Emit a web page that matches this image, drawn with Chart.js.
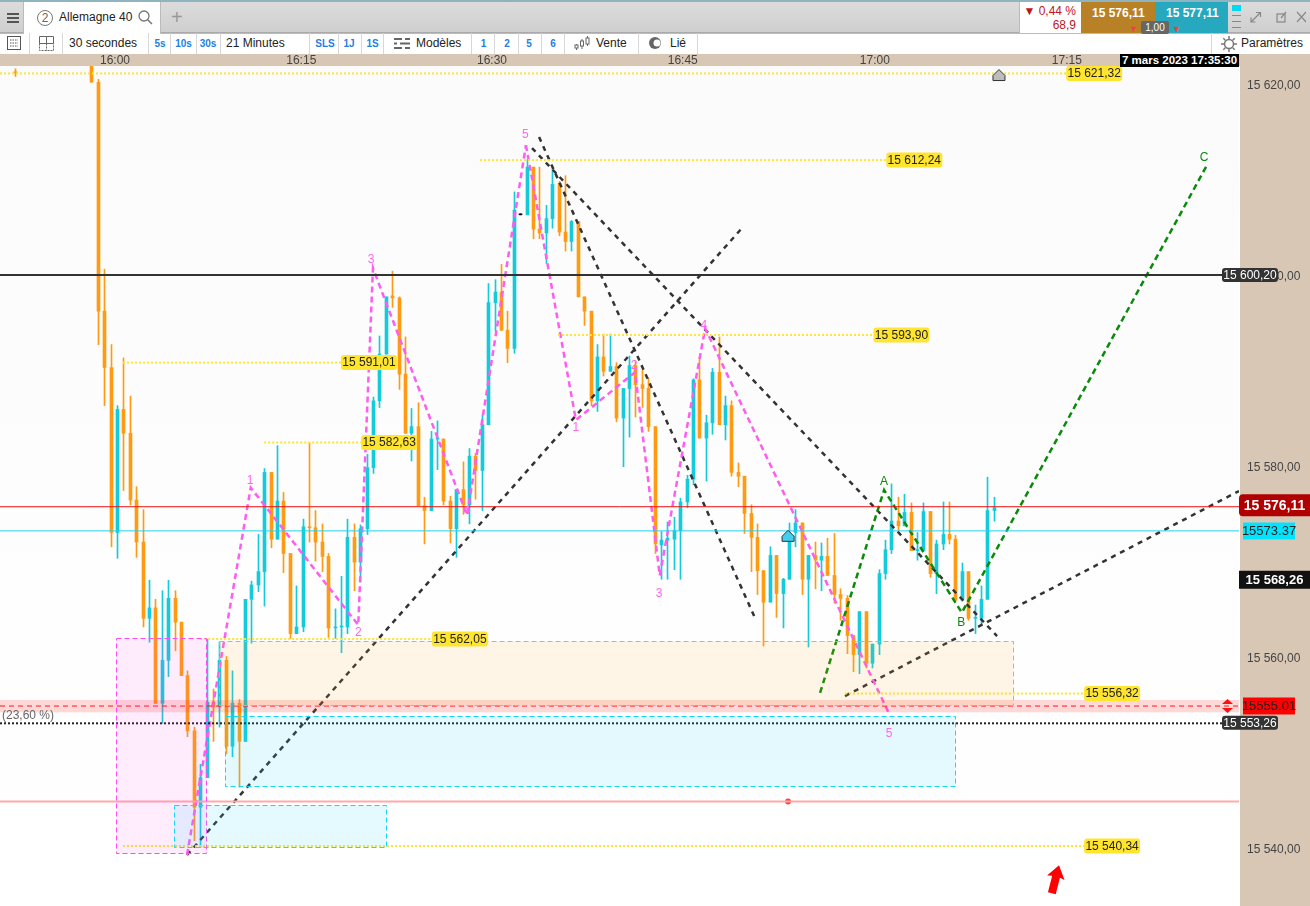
<!DOCTYPE html>
<html lang="fr">
<head>
<meta charset="utf-8">
<title>Allemagne 40</title>
<script src="https://cdn.jsdelivr.net/npm/chart.js@4"></script>
<style>
  html, body { margin: 0; padding: 0; background: #fff; overflow: hidden; }
  body { width: 1310px; height: 906px; position: relative; font-family: "Liberation Sans", Arial, sans-serif; font-size: 12px; color: #222; }
  #chart { position: absolute; left: 0; top: 0; }
  .band { position: absolute; background: #d8c7b5; }
  .bar1 { position: absolute; left: 0; top: 0; width: 1310px; height: 33px; background: linear-gradient(#dcdcdc, #cfcfcf); border-top: 2px solid #8fb4bf; box-sizing: border-box; border-bottom: 1px solid #aaa; }
  .bar2 { position: absolute; left: 0; top: 33px; width: 1310px; height: 21px; background: #fff; }
  .t { position: absolute; white-space: nowrap; line-height: 14px; }
  .b { color: #1e7fe0; font-size: 10px; font-weight: bold; transform: translateX(-50%); }
  .sep { position: absolute; top: 33px; height: 21px; width: 1px; background: #d8d8d8; }
  .box { position: absolute; }
</style>
</head>
<body>
<div class="band" style="left:0;top:54px;width:1310px;height:12px"></div>
<div class="band" style="left:1240px;top:54px;width:70px;height:852px"></div>
<canvas id="chart" width="1310" height="906"></canvas>

<div class="bar1"></div>
<div class="bar2"></div>
<div class="box" style="left:0;top:33px;width:1310px;height:1px;background:#bbb"></div>
<div class="box" style="left:7px;top:13px;width:12px;height:2px;background:#555;box-shadow:0 4px 0 #555,0 8px 0 #555"></div>
<div class="box" style="left:23px;top:2px;width:138px;height:32px;background:#fff;border-left:1px solid #bbb;border-right:1px solid #bbb;box-sizing:border-box"></div>
<div class="t" style="left:37px;top:10px;width:14px;height:14px;border:1px solid #777;border-radius:50%;text-align:center;color:#666">2</div>
<div class="t" style="left:59px;top:10px">Allemagne 40</div>
<svg class="box" style="left:137px;top:9px" width="16" height="16"><circle cx="7" cy="7" r="5" fill="none" stroke="#777" stroke-width="1.3"/><path d="M10.5 10.5L15 15" stroke="#777" stroke-width="1.5"/></svg>
<div class="t" style="left:171px;top:7px;font-size:20px;line-height:20px;color:#999">+</div>

<div class="box" style="left:1019px;top:2px;width:62px;height:31px;background:#fff;border-left:1px solid #bbb;box-sizing:border-box"></div>
<div class="t" style="right:234px;top:4px;color:#c0161b">▼ 0,44 %</div>
<div class="t" style="right:234px;top:18px;color:#c0161b">68,9</div>
<div class="box" style="left:1081px;top:2px;width:74px;height:31px;background:#b98126"></div>
<div class="box" style="left:1155px;top:2px;width:73px;height:31px;background:#26a8bf"></div>
<div class="t" style="left:1092px;top:6px;color:#fff;font-weight:bold">15 576,11</div>
<div class="t" style="left:1166px;top:6px;color:#fff;font-weight:bold">15 577,11</div>
<div class="t" style="left:1141px;top:21px;width:28px;height:13px;line-height:13px;font-size:10px;background:#666;color:#fff;border-radius:2px;text-align:center">1,00</div>
<div class="t" style="left:1129px;top:22px;color:#f04040;font-size:9px">▼</div>
<div class="t" style="left:1172px;top:22px;color:#f04040;font-size:9px">▼</div>
<div class="box" style="left:1232px;top:5px;width:9px;height:6px;background:#00d8f8"></div>
<div class="box" style="left:1232px;top:15px;width:9px;height:1px;background:#888;box-shadow:0 6px 0 #888,0 12px 0 #888"></div>
<svg class="box" style="left:1250px;top:11px" width="56" height="12" fill="none" stroke="#888" stroke-width="1.2"><path d="M1 11L10 2M6 1.5h4.5v4.5M1 6.5V11h4.5"/><rect x="27" y="3" width="8" height="8"/><path d="M31 7l5-6"/><path d="M47 1L56 11M56 1L47 11"/></svg>

<svg class="box" style="left:6px;top:36px" width="16" height="15" fill="none" stroke="#555"><rect x="1.5" y="0.5" width="13" height="13"/><path d="M4 4h8M4 7h8M4 10h8" stroke-dasharray="1.5 1"/></svg>
<svg class="box" style="left:39px;top:36px" width="16" height="15" fill="none" stroke="#666"><path d="M0.5 0.5h7v7h-7zM7.5 0.5h7v7h-7z"/><path d="M0.5 7.5v7h14v-7M7.5 7.5v7" stroke-dasharray="2 1"/></svg>
<div class="t" style="left:69px;top:36px">30 secondes</div>
<div class="t b" style="left:160px;top:37px">5s</div>
<div class="t b" style="left:183.5px;top:37px">10s</div>
<div class="t b" style="left:208px;top:37px">30s</div>
<div class="t" style="left:226px;top:36px">21 Minutes</div>
<div class="t b" style="left:325px;top:37px">SLS</div>
<div class="t b" style="left:349px;top:37px">1J</div>
<div class="t b" style="left:372.5px;top:37px">1S</div>
<svg class="box" style="left:394px;top:36px" width="16" height="15" stroke="#666" stroke-width="2"><path d="M0 3h8M11 3h5M0 7.5h3M6 7.5h10M0 12h8M11 12h5"/></svg>
<div class="t" style="left:416px;top:36px">Modèles</div>
<div class="t b" style="left:483.5px;top:37px">1</div>
<div class="t b" style="left:507px;top:37px">2</div>
<div class="t b" style="left:529px;top:37px">5</div>
<div class="t b" style="left:553px;top:37px">6</div>
<svg class="box" style="left:574px;top:36px" width="16" height="15" fill="none" stroke="#666"><path d="M2.5 8v6M8 3v10M13.5 0v10"/><rect x="1" y="9" width="3" height="3" fill="#fff"/><rect x="6.5" y="5" width="3" height="5" fill="#fff"/><rect x="12" y="2" width="3" height="6" fill="#fff"/></svg>
<div class="t" style="left:596px;top:36px">Vente</div>
<svg class="box" style="left:648px;top:37px" width="14" height="12"><circle cx="7" cy="6" r="6" fill="#666"/><circle cx="9" cy="6" r="3.5" fill="#fff"/></svg>
<div class="t" style="left:670px;top:36px">Lié</div>
<svg class="box" style="left:1221px;top:36px" width="16" height="16" fill="none" stroke="#777" stroke-width="1.5"><circle cx="8" cy="8" r="4.5"/><path d="M8 0v3M8 13v3M0 8h3M13 8h3M2.3 2.3l2 2M11.7 11.7l2 2M2.3 13.7l2-2M11.7 4.3l2-2"/></svg>
<div class="t" style="left:1241px;top:36px">Paramètres</div>
<div class="sep" style="left:29px"></div><div class="sep" style="left:62px"></div><div class="sep" style="left:148px"></div>
<div class="sep" style="left:170px"></div><div class="sep" style="left:196px"></div><div class="sep" style="left:220px"></div>
<div class="sep" style="left:309px"></div><div class="sep" style="left:338px"></div><div class="sep" style="left:361px"></div>
<div class="sep" style="left:383px"></div><div class="sep" style="left:471px"></div><div class="sep" style="left:494px"></div>
<div class="sep" style="left:518px"></div><div class="sep" style="left:541px"></div><div class="sep" style="left:564px"></div>
<div class="sep" style="left:638px"></div><div class="sep" style="left:697px"></div><div class="sep" style="left:1211px"></div>
<div class="t" style="left:1120px;top:54px;width:119px;height:13px;line-height:13px;background:#000;color:#fff;font-weight:bold;font-size:11.5px;text-align:center">7 mars 2023 17:35:30</div>

<script>
const opens = [15621.5,15623,15620.4,15596.4,15590.5,15573.2,15586.1,15583.6,15576.6,15572.2,15564.2,15565.3,15555.3,15559.8,15566.3,15563.8,15558.2,15552.4,15544.4,15547.5,15555.4,15554.9,15559.8,15550.8,15555.3,15551.3,15566.2,15567.7,15569.1,15579.5,15572.5,15576.5,15571,15562.6,15563.3,15573.8,15573.7,15572.2,15570.7,15563.2,15563.3,15563.3,15572.7,15570.1,15573.6,15580,15587,15591.9,15598,15597.8,15589.8,15583.6,15584.3,15576,15575.5,15583,15583,15576.5,15573.6,15577.7,15576.1,15581.2,15579.7,15584.5,15597.3,15598.4,15594.4,15592.5,15606.5,15606.5,15611.5,15605,15604.6,15606.1,15609.8,15604.7,15603.7,15605.8,15597.9,15596.4,15587,15591.6,15590.1,15590.6,15585.2,15588.3,15590.7,15588.7,15588.3,15584.3,15571.9,15572.4,15572.5,15573.4,15576.4,15578.8,15589.2,15583.1,15584.7,15590,15584.5,15586.5,15579.5,15579.1,15575.2,15572.7,15569.2,15565.9,15570.8,15566.8,15568.3,15573.2,15574.2,15568.3,15570.8,15570.3,15570.7,15568.7,15566.7,15566.3,15562.4,15560.4,15564.9,15559.5,15561.5,15568.9,15571.4,15574.4,15573.9,15575.3,15571.3,15571.3,15575.4,15568.9,15572,15573,15572.5,15566.1,15569.1,15564.2,15564.2,15566.2,15575.5];
const highs = [15621.8,15623,15620.7,15600.8,15592.9,15586.5,15591.5,15587.5,15578,15575.6,15568.2,15566.2,15567.1,15568.2,15567.1,15563.8,15558.7,15552.8,15548.9,15562,15556.8,15561.7,15560.2,15558.7,15555.7,15566.2,15568.1,15573,15579.9,15579.5,15582.3,15577.4,15571,15567.6,15574.6,15582.6,15575.5,15574.1,15571,15565.2,15568.6,15574.6,15574.1,15574,15581.4,15587.4,15593.8,15597.9,15600.6,15597.9,15593.7,15586.2,15586.8,15576.9,15583.8,15584.9,15583,15577,15577.7,15580.6,15582,15581.5,15585.5,15599.3,15599.7,15601.3,15596.4,15608.9,15606.5,15612.3,15611.5,15611.5,15607.5,15611.5,15610,15610.6,15605.9,15605.8,15597.9,15596.4,15592.9,15594,15594,15591,15588.3,15591.7,15591.2,15590.2,15589.4,15584.3,15573.3,15574.3,15574.8,15576.8,15579.2,15589.3,15591.5,15585.5,15590.4,15593.7,15587.5,15587,15580.5,15579.1,15576.1,15574.1,15569.2,15571.7,15570.8,15568.4,15574.2,15575.6,15574.2,15570.8,15572.2,15572.1,15572.6,15573.1,15567.3,15566.6,15562.4,15564.9,15564.9,15561.5,15569.3,15572.4,15578.3,15576.9,15577.2,15576.3,15573.2,15576.3,15575.4,15572.4,15576.4,15576.4,15572.9,15570,15569.1,15565.6,15567.6,15579,15576.9];
const lows = [15621,15620.4,15592.9,15586.5,15571.7,15570.5,15577.6,15576.1,15570.6,15563.3,15561.7,15555.3,15553.2,15558.1,15560.8,15558.2,15551.8,15540.9,15540.2,15547.5,15551.3,15552.8,15550,15549.7,15546.5,15551.3,15561.6,15567,15565.5,15571.6,15572.5,15569,15562.1,15562.6,15562.8,15572.2,15570.2,15569.1,15562.2,15562.1,15560.6,15562.6,15567.1,15568,15573,15579.4,15586.3,15591.9,15596.8,15588.2,15583.6,15580.7,15576,15572,15575.5,15579.8,15576.1,15572.1,15570.6,15575.1,15574.1,15576.7,15575.5,15584.5,15594.3,15594.4,15591,15592,15606.5,15606.5,15604,15604,15601.4,15605.1,15604.3,15602.7,15602.7,15597.9,15594.9,15586.5,15585.9,15589.6,15590.1,15584.8,15580.1,15583.2,15585.3,15586.3,15583.8,15571,15568.3,15568.3,15569.3,15568.3,15575.8,15578.2,15583.1,15578.6,15583.5,15584.5,15582.9,15579.1,15578,15573.1,15569.1,15566.7,15561.3,15565.9,15564.3,15563.2,15568.3,15571.7,15566.7,15561.2,15567.3,15567.1,15568.7,15565.8,15564,15560.5,15558.6,15558.4,15559,15559,15560.4,15568.3,15571,15573.3,15573.9,15571.3,15570.3,15571.3,15568.5,15566.8,15571.4,15572,15566.1,15566,15564,15562.6,15563.6,15566.2,15574.4];
const closes = [15621.4,15620.4,15596.4,15590.5,15573.2,15586.1,15583.6,15576.6,15572.2,15564.2,15565.3,15555.3,15559.8,15566.3,15563.8,15558.2,15552.4,15544.4,15547.5,15555.4,15554.9,15559.8,15550.8,15555.3,15551.3,15566.2,15567.7,15569.1,15579.5,15572.5,15576.5,15571,15562.6,15563.3,15573.8,15573.7,15572.2,15570.7,15563.2,15563.3,15563.4,15572.7,15570.1,15573.6,15580,15587,15591.9,15597.9,15597.8,15589.8,15583.6,15584.3,15576,15575.5,15583,15583.1,15576.5,15573.6,15577.7,15576.1,15581.2,15579.7,15584.5,15597.3,15598.4,15594.4,15592.5,15607,15606.5,15611.5,15605,15604.6,15606.1,15609.7,15604.7,15603.7,15605.8,15597.9,15596.4,15587,15591.6,15590.1,15590.6,15585.2,15588.3,15590.7,15588.7,15588.3,15584.3,15572,15572.4,15572.6,15573.4,15576.4,15578.8,15589.2,15583.1,15584.7,15590,15584.5,15586.5,15579.5,15579.1,15575.2,15572.7,15569.2,15565.9,15570.8,15566.8,15568.3,15572.4,15574.2,15568.3,15570.8,15570.3,15570.7,15568.7,15566.7,15566.3,15562.4,15560.4,15564.9,15559.5,15561.5,15568.9,15571.4,15574.4,15573.9,15575.3,15571.3,15571.4,15575.4,15568.9,15572,15573,15572.5,15566.1,15569.1,15564.2,15564.3,15566.2,15575.5,15575.8];
// une bougie isolée à gauche, les autres se suivent
const slots = opens.map((_, n) => (n === 0 ? -12 : n - 1));

const timeTicks = [3.7, 32.8, 62.6, 92.4, 122.4, 152.4];
const timeLabels = ["16:00", "16:15", "16:30", "16:45", "17:00", "17:15"];
const priceTicks = [15540, 15560, 15580, 15600, 15620];

// niveaux pointillés jaunes
const levelPrices = [15621.32, 15612.24, 15593.9, 15591.01, 15582.63, 15562.05, 15556.32, 15540.34];
const levelFrom = [-14.27, 60.7, 72.9, 4.95, 27, 17, 117.75, 4.95];
const levelTo = [152.3, 124.2, 122.2, 39, 42.15, 53.2, 155.1, 155.1];

// vagues et droites tracées
const waveA = [[14.95, 15539.4], [24.9, 15577.9], [41.7, 15563.5], [44, 15600.9], [58.7, 15575], [67.9, 15613.8]];
const waveB = [[67.9, 15613.8], [75.7, 15585], [84.95, 15590], [88.8, 15568.7], [95.9, 15594.6], [124.5, 15554.4]];
const waveGreen = [[113.85, 15556.4], [123.85, 15577.65], [136, 15564.8], [174.3, 15611.7]];
const blackLines = [
  [[14.95, 15539.4], [101.5, 15605]],
  [[69.95, 15614.65], [103.85, 15564]],
  [[68.85, 15613.5], [141.5, 15562.35]],
  [[117.75, 15556.06], [179.3, 15577.55]],
];
const waveText = ["1", "2", "3", "4", "5", "1", "2", "3", "4", "5"];
const waveTextX = [24.8, 41.7, 43.7, 58.7, 67.8, 75.7, 84.8, 88.7, 95.7, 124.65];
const waveTextY = [15578.6, 15562.7, 15601.8, 15575.5, 15614.9, 15584.15, 15590.65, 15566.75, 15594.85, 15552.1];
const greenText = ["A", "B", "C"];
const greenTextX = [123.85, 135.9, 173.85];
const greenTextY = [15578.5, 15563.7, 15612.45];

// zones : x début, x fin, prix haut, prix bas
const zoneMagenta = [3.92, 18.05, 15562.1, 15539.57];
const zoneOrange = [19.95, 144, 15561.8, 15555.1];
const zoneCyanA = [20.9, 134.95, 15553.96, 15546.6];
const zoneCyanB = [12.97, 46.05, 15544.6, 15540.2];
const redBand = [15555.64, 15554.35];

const blackLevel = 15600.2;
const bidLevel = 15575.9;
const cyanLevel = 15573.37;
const redLevel = 15555.01;
const dottedLevel = 15553.2;
const pinkLevel = 15545;
const redDot = [108.85, 15545];
const greyMark = [141.8, 15621.1];
const cyanMark = [108.85, 15572.8];
const arrowMark = [150.6, 15536.8];

const X_MIN = -14.27, X_MAX = 179.3;
const ORANGE = "#ff9a12", TEAL = "#14cbdc";

function fmt(v) {
  const s = v.toFixed(2).replace(".", ",");
  return s.slice(0, 2) + " " + s.slice(2);
}
const toPts = (arr) => arr.map((p) => ({ x: p[0], y: p[1] }));
const candleColor = (n) =>
  closes[n] === opens[n] ? "#111" : closes[n] > opens[n] ? TEAL : ORANGE;

function lineSet(points, color, width, dash, label) {
  return { type: "line", label, data: points, borderColor: color, borderWidth: width, borderDash: dash, pointRadius: 0, fill: false, tension: 0, order: 1 };
}
function hLine(v, color, width, dash, label) {
  return lineSet([{ x: X_MIN, y: v }, { x: X_MAX, y: v }], color, width, dash, label);
}

const datasets = [
  {
    label: "Mèches",
    data: slots.map((s, n) => ({ x: s, y: [lows[n], highs[n]] })),
    backgroundColor: slots.map((_, n) => candleColor(n)),
    barThickness: 1, minBarLength: 1, grouped: false, order: 3,
  },
  {
    label: "Corps",
    data: slots.map((s, n) => ({ x: s, y: [closes[n], opens[n]] })),
    backgroundColor: slots.map((_, n) => candleColor(n)),
    barThickness: 3, minBarLength: 1, grouped: false, order: 2,
  },
  hLine(blackLevel, "#333", 2, [], "noir"),
  hLine(bidLevel, "#f01010", 1, [], "bid"),
  hLine(cyanLevel, "#22d3ee", 1, [], "cyan"),
  hLine(pinkLevel, "#ffaaaa", 2, [], "rose"),
  hLine(redLevel, "#ff1414", 1, [5, 4], "rouge"),
  hLine(dottedLevel, "#222", 2, [2, 2], "pointillé"),
  ...levelPrices.map((p, n) =>
    lineSet([{ x: levelFrom[n], y: p }, { x: levelTo[n], y: p }], "#ffe52e", 2, [2, 2], "niveau " + n)
  ),
  lineSet(toPts(waveA), "#ff5cf0", 2.5, [6, 4], "vague 1"),
  lineSet(toPts(waveB), "#ff5cf0", 2.5, [6, 4], "vague 2"),
  lineSet(toPts(waveGreen), "#0a8a0a", 2.5, [6, 4], "ABC"),
  ...blackLines.map((l, n) => lineSet(toPts(l), "#333", 2.5, [5, 5], "droite " + n)),
  {
    type: "line", label: "point", data: [{ x: redDot[0], y: redDot[1] }], showLine: false,
    pointRadius: 3, pointBackgroundColor: "#ff4040", pointBorderWidth: 0, order: 1,
  },
];

function drawZone(ctx, sx, sy, z, fill, stroke) {
  const l = sx.getPixelForValue(z[0]), r = sx.getPixelForValue(z[1]);
  const t = sy.getPixelForValue(z[2]), b = sy.getPixelForValue(z[3]);
  ctx.fillStyle = fill;
  ctx.fillRect(l, t, r - l, b - t);
  ctx.strokeStyle = stroke;
  ctx.lineWidth = 1;
  ctx.setLineDash([5, 3]);
  ctx.strokeRect(Math.round(l) + 0.5, Math.round(t) + 0.5, Math.round(r - l), Math.round(b - t));
  ctx.setLineDash([]);
}
function badge(ctx, x, yc, w, h, bg, fg, text, font, radius) {
  ctx.fillStyle = bg;
  ctx.beginPath();
  ctx.roundRect(x, yc - h / 2, w, h, radius);
  ctx.fill();
  ctx.fillStyle = fg;
  ctx.font = font;
  ctx.textAlign = "center";
  ctx.textBaseline = "middle";
  ctx.fillText(text, x + w / 2, yc + 0.5);
}
function houseMark(ctx, x, y, fill) {
  ctx.fillStyle = fill;
  ctx.strokeStyle = "#333";
  ctx.lineWidth = 1;
  ctx.beginPath();
  ctx.moveTo(x, y - 6);
  ctx.lineTo(x + 6, y);
  ctx.lineTo(x + 6, y + 5);
  ctx.lineTo(x - 6, y + 5);
  ctx.lineTo(x - 6, y);
  ctx.closePath();
  ctx.fill();
  ctx.stroke();
}

const tradingPlugin = {
  id: "trading",
  beforeDraw(chart) {
    const { ctx, chartArea: a } = chart;
    const g = ctx.createLinearGradient(0, a.top, 0, a.bottom);
    g.addColorStop(0, "#fbfbfb");
    g.addColorStop(1, "#ffffff");
    ctx.fillStyle = g;
    ctx.fillRect(a.left, a.top, a.right - a.left, a.bottom - a.top);
  },
  beforeDatasetsDraw(chart) {
    // calage des bougies sur le pixel
    [0, 1].forEach((d) => {
      chart.getDatasetMeta(d).data.forEach((el) => {
        el.x = Math.round(el.x) + 0.5;
      });
    });
  },
  beforeDatasetDraw(chart, args) {
    // zones au dessus des bougies, sous les tracés
    if (args.index !== 2) return;
    const { ctx, scales: { x: sx, y: sy }, chartArea: a } = chart;
    ctx.save();
    ctx.fillStyle = "rgba(255, 40, 40, 0.18)";
    const t = sy.getPixelForValue(redBand[0]), b = sy.getPixelForValue(redBand[1]);
    ctx.fillRect(a.left, t, a.right - a.left, b - t);
    drawZone(ctx, sx, sy, zoneMagenta, "rgba(255, 60, 240, 0.09)", "#ff4cf0");
    drawZone(ctx, sx, sy, zoneOrange, "rgba(255, 170, 40, 0.11)", "#ffa820");
    drawZone(ctx, sx, sy, zoneCyanA, "rgba(40, 210, 255, 0.12)", "#14d8f4");
    drawZone(ctx, sx, sy, zoneCyanB, "rgba(40, 210, 255, 0.12)", "#14d8f4");
    ctx.restore();
  },
  afterDatasetsDraw(chart) {
    const { ctx, scales: { x: sx, y: sy } } = chart;
    ctx.save();
    ctx.textAlign = "center";
    ctx.textBaseline = "middle";
    ctx.font = '12px "Liberation Sans"';
    ctx.fillStyle = "#ff66ee";
    waveText.forEach((t, n) => ctx.fillText(t, sx.getPixelForValue(waveTextX[n]), sy.getPixelForValue(waveTextY[n])));
    ctx.fillStyle = "#0a8a0a";
    greenText.forEach((t, n) => ctx.fillText(t, sx.getPixelForValue(greenTextX[n]), sy.getPixelForValue(greenTextY[n])));

    levelPrices.forEach((p, n) => {
      const x = sx.getPixelForValue(levelTo[n]);
      badge(ctx, x, sy.getPixelForValue(p), 56, 15, "#ffe52e", "#222", fmt(p), '12px "Liberation Sans"', 3);
    });

    houseMark(ctx, sx.getPixelForValue(greyMark[0]), sy.getPixelForValue(greyMark[1]), "#bdbdbd");
    houseMark(ctx, sx.getPixelForValue(cyanMark[0]), sy.getPixelForValue(cyanMark[1]), "#3fd0f0");

    // flèche rouge
    ctx.translate(sx.getPixelForValue(arrowMark[0]), sy.getPixelForValue(arrowMark[1]));
    ctx.rotate(0.25);
    ctx.fillStyle = "#ff0000";
    ctx.beginPath();
    ctx.moveTo(0, -15);
    ctx.lineTo(9, -2);
    ctx.lineTo(4, -3);
    ctx.lineTo(4, 14);
    ctx.lineTo(-4, 14);
    ctx.lineTo(-4, -3);
    ctx.lineTo(-9, -2);
    ctx.closePath();
    ctx.fill();
    ctx.restore();

    ctx.save();
    ctx.fillStyle = "#666";
    ctx.font = '12px "Liberation Sans"';
    ctx.textAlign = "left";
    ctx.textBaseline = "middle";
    ctx.fillText("(23,60 %)", 2, sy.getPixelForValue(dottedLevel) - 8);
    ctx.restore();
  },
  afterDraw(chart) {
    const { ctx, scales: { y: sy } } = chart;
    const small = '12px "Liberation Sans"';
    ctx.save();
    badge(ctx, 1222, sy.getPixelForValue(blackLevel), 56, 14, "#333", "#fff", fmt(blackLevel), small, 3);
    badge(ctx, 1239, sy.getPixelForValue(bidLevel) - 1.5, 71, 22, "#b00000", "#fff", fmt(15576.11), 'bold 14px "Liberation Sans"', [4, 0, 0, 4]);
    badge(ctx, 1243, sy.getPixelForValue(cyanLevel), 52, 17, "#00e5ff", "#222", "15573.37", "13px \"Liberation Sans\"", 0);
    badge(ctx, 1239, sy.getPixelForValue(15568.26), 71, 18, "#111", "#fff", fmt(15568.26), 'bold 13px "Liberation Sans"', 0);
    badge(ctx, 1243, sy.getPixelForValue(redLevel), 52, 17, "#ff0000", "#222", "15555.01", "13px \"Liberation Sans\"", 0);
    badge(ctx, 1222, sy.getPixelForValue(15553.26), 56, 14, "#333", "#fff", fmt(15553.26), small, 3);
    // double flèche sur le niveau rouge
    const yr = sy.getPixelForValue(redLevel);
    ctx.fillStyle = "#ff1010";
    ctx.beginPath();
    ctx.moveTo(1227.5, yr - 7); ctx.lineTo(1233, yr - 2); ctx.lineTo(1222, yr - 2); ctx.closePath();
    ctx.moveTo(1227.5, yr + 7); ctx.lineTo(1233, yr + 2); ctx.lineTo(1222, yr + 2); ctx.closePath();
    ctx.fill();
    ctx.restore();
  },
};

new Chart(document.getElementById("chart").getContext("2d"), {
  type: "bar",
  data: { datasets },
  plugins: [tradingPlugin],
  options: {
    responsive: false,
    animation: false,
    devicePixelRatio: 1,
    layout: { autoPadding: false, padding: { top: 54, left: 0, right: 0, bottom: 0 } },
    plugins: { legend: { display: false }, tooltip: { enabled: false }, title: { display: false } },
    scales: {
      x: {
        type: "linear",
        position: "top",
        min: X_MIN,
        max: X_MAX,
        offset: false,
        grid: { display: false, drawTicks: false },
        border: { display: false },
        afterBuildTicks: (s) => { s.ticks = timeTicks.map((v) => ({ value: v })); },
        afterFit: (s) => { s.height = 12; s.paddingLeft = 0; s.paddingRight = 0; },
        ticks: {
          autoSkip: false,
          maxRotation: 0,
          padding: -2,
          color: "#444",
          font: { family: "Liberation Sans", size: 12 },
          callback: (v, n) => timeLabels[n],
        },
      },
      y: {
        position: "right",
        min: 15534.05,
        max: 15622.1,
        grid: { display: false, drawTicks: false },
        border: { display: false },
        afterBuildTicks: (s) => { s.ticks = priceTicks.map((v) => ({ value: v })); },
        // sinon la marge des libellés raccourcit la zone de tracé
        afterFit: (s) => { s.width = 71; s.paddingTop = 0; s.paddingBottom = 0; },
        ticks: {
          padding: 8,
          color: "#444",
          font: { family: "Liberation Sans", size: 12 },
          callback: (v) => fmt(v),
        },
      },
    },
  },
});
</script>
</body>
</html>
